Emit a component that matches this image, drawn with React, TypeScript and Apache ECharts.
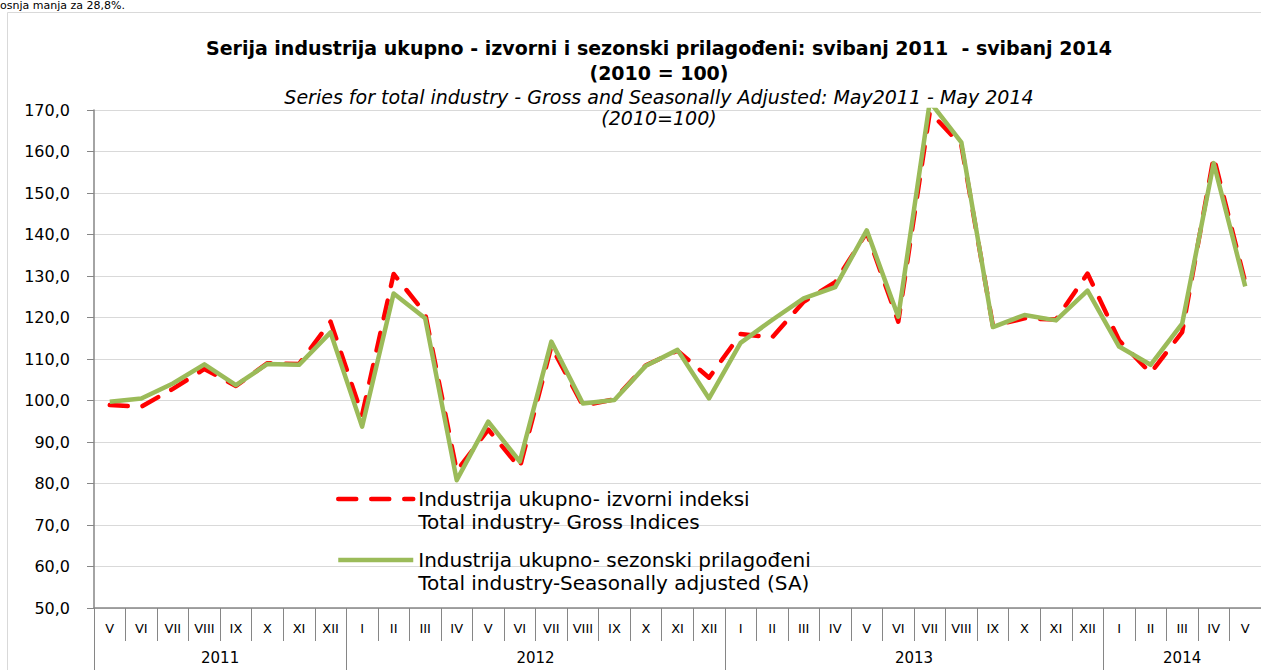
import { useEffect, useRef } from 'react';
import * as echarts from 'echarts';

const months = [
  'V', 'VI', 'VII', 'VIII', 'IX', 'X', 'XI', 'XII',
  'I', 'II', 'III', 'IV', 'V', 'VI', 'VII', 'VIII', 'IX', 'X', 'XI', 'XII',
  'I', 'II', 'III', 'IV', 'V', 'VI', 'VII', 'VIII', 'IX', 'X', 'XI', 'XII',
  'I', 'II', 'III', 'IV', 'V',
];
const years = ['2011', '2012', '2013', '2014'];
const monthsPerYear = [8, 12, 12, 5];

const grossIndices = [
  98.9, 98.5, 102.8, 107.6, 103.5, 109.0, 108.8, 119.0,
  96.5, 130.5, 121.0, 83.0, 93.0, 83.8, 113.0, 98.8, 100.3, 108.5, 112.0, 105.5,
  116.0, 115.2, 123.8, 128.5, 140.5, 119.0, 169.5, 161.5, 118.0, 119.8, 119.5, 130.6,
  114.5, 106.6, 116.5, 158.7, 128.5,
];
const seasonallyAdjusted = [
  99.7, 100.5, 104.1, 108.7, 103.7, 108.8, 108.6, 116.4,
  93.7, 125.8, 119.8, 80.8, 94.9, 85.3, 114.2, 99.3, 100.1, 108.4, 112.2, 100.5,
  113.9, 119.4, 124.6, 127.3, 141.0, 120.2, 172.0, 162.2, 117.7, 120.6, 119.3, 126.5,
  113.0, 108.6, 118.5, 157.2, 127.5,
];

const seriesNames = ['gross', 'sa'];
const legendLines: Record<string, [string, string]> = {
  gross: ['Industrija ukupno- izvorni indeksi', 'Total industry- Gross Indices'],
  sa: ['Industrija ukupno- sezonski prilagođeni', 'Total industry-Seasonally adjusted (SA)'],
};

const titleText =
  'Serija industrija ukupno - izvorni i sezonski prilagođeni: svibanj 2011  - svibanj 2014\n(2010 = 100)';
const subtitleText =
  'Series for total industry - Gross and Seasonally Adjusted: May2011 - May 2014\n(2010=100)';
const topNote = 'osnja manja za 28,8%.';

const Y_MIN = 50;
const Y_MAX = 170;
const Y_STEP = 10;

export default function App() {
  const ref = useRef<HTMLDivElement>(null);

  useEffect(() => {
    if (!ref.current) return;
    const chart = echarts.init(ref.current, null, { renderer: 'svg' });

    const gridLeft = 94;
    const gridWidth = 1171;
    const band = gridWidth / months.length;

    const yearStarts: number[] = [];
    const yearLabelAt: Record<number, { text: string; half: boolean }> = {};
    let acc = 0;
    monthsPerYear.forEach((n, k) => {
      yearStarts.push(acc);
      const idx = acc + Math.floor(n / 2);
      yearLabelAt[idx] = { text: years[k], half: n % 2 === 0 };
      acc += n;
    });

    const axisGray = '#868686';

    chart.setOption({
      animation: false,
      backgroundColor: '#ffffff',
      title: {
        text: titleText,
        subtext: subtitleText,
        left: 654,
        textAlign: 'center',
        top: 30,
        padding: [5, 5, 5, 5],
        itemGap: 1,
        textStyle: {
          fontFamily: 'DejaVu Sans',
          fontWeight: 'bold',
          fontSize: 19,
          lineHeight: 25,
          color: '#000',
        },
        subtextStyle: {
          fontFamily: 'DejaVu Sans',
          fontStyle: 'italic',
          fontSize: 19,
          lineHeight: 21,
          color: '#000',
        },
      },
      legend: {
        orient: 'vertical',
        left: 331,
        top: 466,
        itemWidth: 75,
        itemHeight: 14,
        itemGap: 0,
        data: seriesNames,
        itemStyle: { opacity: 0 },
        lineStyle: { width: 4.5 },
        formatter: (name: string) =>
          `{e| }\n{a|${legendLines[name][0]}}\n{a|${legendLines[name][1]}}`,
        textStyle: {
          rich: {
            e: { fontSize: 10, lineHeight: 23 },
            a: {
              fontFamily: 'DejaVu Sans',
              fontSize: 20,
              lineHeight: 23,
              color: '#000',
            },
          },
        },
      },
      grid: {
        left: gridLeft,
        top: 110,
        width: gridWidth,
        bottom: 62,
        containLabel: false,
      },
      xAxis: [
        {
          type: 'category',
          data: months,
          boundaryGap: true,
          position: 'bottom',
          axisLine: { show: true, lineStyle: { color: axisGray, width: 1.5 } },
          axisTick: {
            show: true,
            interval: 0,
            length: 33,
            lineStyle: { color: axisGray, width: 1 },
          },
          axisLabel: {
            interval: 0,
            margin: 14,
            fontFamily: 'DejaVu Sans',
            fontSize: 13,
            color: '#000',
          },
          splitLine: { show: false },
        },
        {
          type: 'category',
          data: months,
          boundaryGap: true,
          position: 'bottom',
          offset: 0,
          axisLine: { show: false },
          axisTick: {
            show: true,
            interval: (i: number) => yearStarts.includes(i),
            length: 62,
            lineStyle: { color: axisGray, width: 1 },
          },
          axisLabel: {
            interval: (i: number) => yearLabelAt[i] !== undefined,
            margin: 42,
            formatter: (_v: string, i: number) => {
              const y = yearLabelAt[i];
              if (!y) return '';
              return y.half ? `{h|${y.text}}` : `{c|${y.text}}`;
            },
            rich: {
              h: {
                fontFamily: 'DejaVu Sans',
                fontSize: 15,
                color: '#000',
                padding: [0, band, 0, 0],
              },
              c: { fontFamily: 'DejaVu Sans', fontSize: 15, color: '#000' },
            },
          },
          splitLine: { show: false },
        },
      ],
      yAxis: {
        type: 'value',
        min: Y_MIN,
        max: Y_MAX,
        interval: Y_STEP,
        axisLine: { show: true, lineStyle: { color: axisGray, width: 1.5 } },
        axisTick: { show: true, length: 7, lineStyle: { color: axisGray } },
        axisLabel: {
          margin: 24,
          fontFamily: 'DejaVu Sans',
          fontSize: 16,
          color: '#000',
          formatter: (v: number) => v.toFixed(1).replace('.', ','),
        },
        splitLine: { show: true, lineStyle: { color: '#d9d9d9', width: 1 } },
      },
      series: [
        {
          name: 'gross',
          type: 'line',
          data: grossIndices,
          symbol: 'none',
          showSymbol: false,
          lineStyle: {
            color: '#ff0000',
            width: 4.5,
            type: [18, 15],
            cap: 'round',
            join: 'round',
          },
          itemStyle: { color: '#ff0000' },
          z: 2,
        },
        {
          name: 'sa',
          type: 'line',
          data: seasonallyAdjusted,
          symbol: 'none',
          showSymbol: false,
          lineStyle: { color: '#9bbb59', width: 4.5, join: 'round' },
          itemStyle: { color: '#9bbb59' },
          z: 3,
        },
      ],
      graphic: [
        {
          type: 'rect',
          silent: true,
          z: -1,
          shape: { x: 7.5, y: 12.5, width: 1300, height: 700 },
          style: { fill: 'none', stroke: '#d9d9d9', lineWidth: 1 },
        },
        {
          type: 'text',
          silent: true,
          x: 0,
          y: 0,
          style: {
            text: topNote,
            fontFamily: 'DejaVu Sans',
            fontSize: 11,
            fill: '#000',
            textVerticalAlign: 'top',
          },
        },
      ],
    });

    return () => chart.dispose();
  }, []);

  return (
    <div
      ref={ref}
      style={{ position: 'fixed', left: 0, top: 0, width: 1261, height: 670 }}
    />
  );
}
